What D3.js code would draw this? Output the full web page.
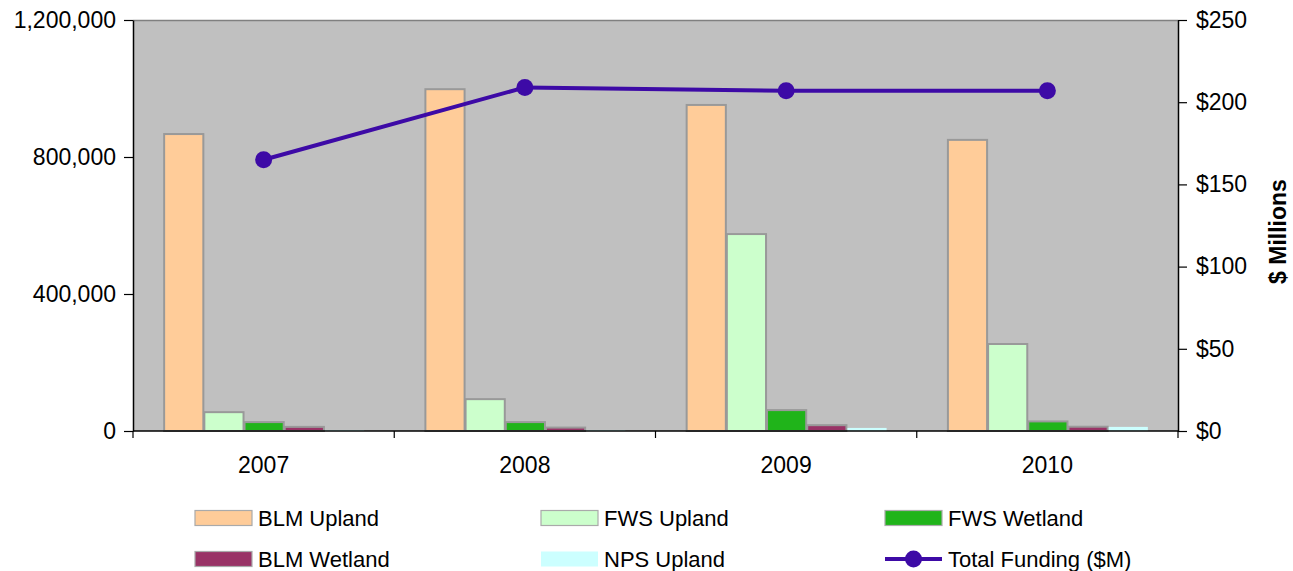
<!DOCTYPE html>
<html>
<head>
<meta charset="utf-8">
<script src="https://cdn.jsdelivr.net/npm/d3@7"></script>
<style>
  html, body { margin: 0; padding: 0; background: #fff; }
  svg { display: block; }
  text { font-family: "Liberation Sans", Arial, sans-serif; fill: #000; }
</style>
</head>
<body>
<svg id="chart" width="1293" height="571"></svg>
<script>
// Years on the category axis
const years = ["2007", "2008", "2009", "2010"];

// Acres treated by agency and habitat type (left axis)
const blmUpland  = [867000, 998000, 952000, 850000];
const fwsUpland  = [55000, 93000, 575000, 254000];
const fwsWetland = [26000, 26000, 61000, 28000];
const blmWetland = [12000, 10000, 17000, 12500];
const npsUpland  = [3000, 3000, 9000, 12000];

// Total funding in $ millions (right axis)
const totalFunding = [165, 209, 207, 207];

// Axis ticks
const leftTicks = [0, 400000, 800000, 1200000];
const rightTicks = [0, 50, 100, 150, 200, 250];

const seriesNames = ["BLM Upland", "FWS Upland", "FWS Wetland", "BLM Wetland", "NPS Upland"];
const seriesValues = [blmUpland, fwsUpland, fwsWetland, blmWetland, npsUpland];
const seriesFill = ["#FFCC99", "#CCFFCC", "#20B41A", "#993366", "#CCFFFF"];
const seriesStroke = ["#999999", "#999999", "#999999", "#999999", "none"];
const lineColor = "#3D0AA6";

const svg = d3.select("#chart");
const plot = { left: 133, right: 1178, top: 20, bottom: 431 };

const x = d3.scaleBand().domain(years).range([plot.left, plot.right]).paddingInner(0).paddingOuter(0);
const gapRatio = 1.5;
const barW = x.bandwidth() / (seriesNames.length + gapRatio);
const xSeries = d3.scaleBand().domain(seriesNames)
  .range([barW * gapRatio / 2, barW * gapRatio / 2 + barW * seriesNames.length]);

const yLeft = d3.scaleLinear().domain([0, 1200000]).range([plot.bottom, plot.top]);
const yRight = d3.scaleLinear().domain([0, 250]).range([plot.bottom, plot.top]);

// Plot area background
svg.append("rect")
  .attr("x", plot.left).attr("y", plot.top)
  .attr("width", plot.right - plot.left).attr("height", plot.bottom - plot.top)
  .attr("fill", "#C0C0C0");
svg.append("line")
  .attr("x1", plot.left).attr("x2", plot.right)
  .attr("y1", plot.top + 0.5).attr("y2", plot.top + 0.5)
  .attr("stroke", "#808080").attr("stroke-width", 1.5);

// Bars
const groups = svg.append("g").selectAll("g")
  .data(years).join("g")
  .attr("transform", d => `translate(${x(d)},0)`);

groups.selectAll("rect")
  .data((yr, i) => seriesNames.map((name, s) => ({ name, s, v: seriesValues[s][i] })))
  .join("rect")
  .attr("x", d => xSeries(d.name) + 1)
  .attr("width", xSeries.bandwidth() - 1)
  .attr("y", d => yLeft(d.v))
  .attr("height", d => yLeft(0) - yLeft(d.v))
  .attr("fill", d => seriesFill[d.s])
  .attr("stroke", d => seriesStroke[d.s])
  .attr("stroke-width", 2);

// Left axis
const leftAxis = svg.append("g")
  .attr("transform", `translate(${plot.left},0)`)
  .call(d3.axisLeft(yLeft).tickValues(leftTicks).tickFormat(d3.format(",")).tickSize(9).tickSizeOuter(0).tickPadding(8));

// Right axis
const rightAxis = svg.append("g")
  .attr("transform", `translate(${plot.right},0)`)
  .call(d3.axisRight(yRight).tickValues(rightTicks).tickFormat(d => "$" + d).tickSize(9).tickSizeOuter(0).tickPadding(9));

// Bottom axis with ticks at category boundaries
const bottomAxis = svg.append("g")
  .attr("transform", `translate(0,${plot.bottom})`);
bottomAxis.append("line")
  .attr("x1", plot.left).attr("x2", plot.right)
  .attr("stroke", "#000").attr("stroke-width", 1.5);
const boundaries = years.map(y => x(y)).concat([plot.right]);
bottomAxis.selectAll("line.tick")
  .data(boundaries).join("line")
  .attr("class", "tick")
  .attr("x1", d => d).attr("x2", d => d)
  .attr("y1", 0).attr("y2", 7)
  .attr("stroke", "#000").attr("stroke-width", 1.2);
bottomAxis.selectAll("text")
  .data(years).join("text")
  .attr("x", d => x(d) + x.bandwidth() / 2)
  .attr("y", 42)
  .attr("text-anchor", "middle")
  .style("font-size", "23px")
  .text(d => d);

[leftAxis, rightAxis].forEach(a => {
  a.attr("font-family", null);
  a.select(".domain").attr("stroke", "#000").attr("stroke-width", 1.5);
  a.selectAll(".tick line").attr("stroke", "#000").attr("stroke-width", 1.2);
  a.selectAll(".tick text").style("font-size", "23px");
});

// Right axis title
svg.append("text")
  .attr("transform", `translate(1286,${(plot.top + plot.bottom) / 2 + 6}) rotate(-90)`)
  .attr("text-anchor", "middle")
  .style("font-size", "23px")
  .style("font-weight", "bold")
  .text("$ Millions");

// Total funding line
const cx = d => x(d) + x.bandwidth() / 2;
const line = d3.line().x((v, i) => cx(years[i])).y(v => yRight(v));
svg.append("path")
  .datum(totalFunding)
  .attr("d", line)
  .attr("fill", "none")
  .attr("stroke", lineColor)
  .attr("stroke-width", 4);
svg.append("g").selectAll("circle")
  .data(totalFunding).join("circle")
  .attr("cx", (v, i) => cx(years[i]))
  .attr("cy", v => yRight(v))
  .attr("r", 8.5)
  .attr("fill", lineColor);

// Legend
const legendItems = [
  { name: "BLM Upland", s: 0, col: 0, row: 0 },
  { name: "FWS Upland", s: 1, col: 1, row: 0 },
  { name: "FWS Wetland", s: 2, col: 2, row: 0 },
  { name: "BLM Wetland", s: 3, col: 0, row: 1 },
  { name: "NPS Upland", s: 4, col: 1, row: 1 },
  { name: "Total Funding ($M)", s: -1, col: 2, row: 1 }
];
const colX = [195, 541, 885];
const rowY = [518, 559];
const legend = svg.append("g").selectAll("g")
  .data(legendItems).join("g")
  .attr("transform", d => `translate(${colX[d.col]},${rowY[d.row]})`);

legend.filter(d => d.s >= 0).append("rect")
  .attr("x", 0).attr("y", -7.5)
  .attr("width", 57).attr("height", 15)
  .attr("fill", d => seriesFill[d.s])
  .attr("stroke", d => d.s === 4 ? "none" : "#aaaaaa")
  .attr("stroke-width", 1.2);

const lineItem = legend.filter(d => d.s < 0);
lineItem.append("line")
  .attr("x1", 0).attr("x2", 57).attr("y1", 0).attr("y2", 0)
  .attr("stroke", lineColor).attr("stroke-width", 4);
lineItem.append("circle")
  .attr("cx", 28.5).attr("cy", 0).attr("r", 8.5)
  .attr("fill", lineColor);

legend.append("text")
  .attr("x", 63).attr("y", 8)
  .style("font-size", "22px")
  .text(d => d.name);
</script>
</body>
</html>
